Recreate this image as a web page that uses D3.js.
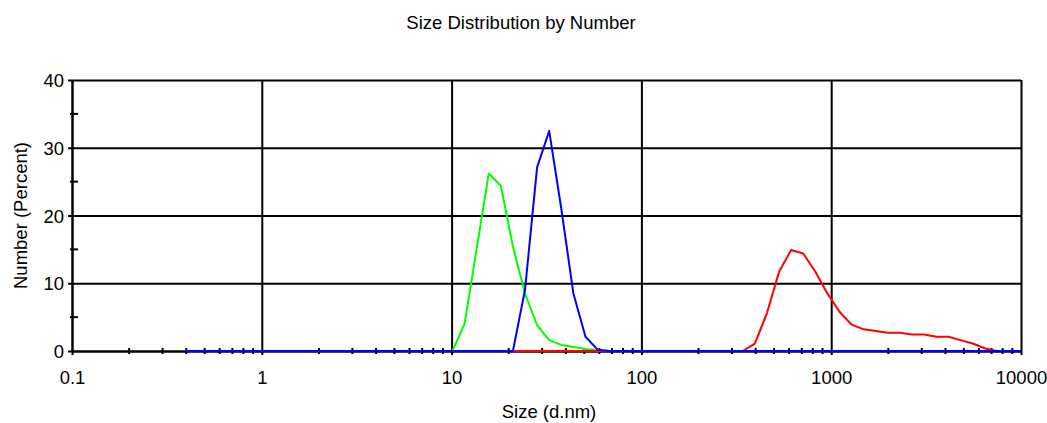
<!DOCTYPE html>
<html>
<head>
<meta charset="utf-8">
<script src="https://cdn.jsdelivr.net/npm/d3@7"></script>
<style>
  html, body { margin: 0; padding: 0; background: #fff; }
  svg { display: block; }
  text { font-family: "Liberation Sans", Arial, sans-serif; fill: #000; }
</style>
</head>
<body>
<svg id="chart" width="1047" height="423"></svg>
<script>
// Size bins (d.nm) shared by all three measurements
const sizes = [
  0.4, 0.4632, 0.5365, 0.6213, 0.7195, 0.8332, 0.9649, 1.117, 1.294, 1.499,
  1.736, 2.010, 2.328, 2.696, 3.122, 3.615, 4.187, 4.849, 5.615, 6.503,
  7.531, 8.721, 10.10, 11.70, 13.54, 15.69, 18.17, 21.04, 24.36, 28.21,
  32.67, 37.84, 43.82, 50.75, 58.77, 68.06, 78.82, 91.28, 105.7, 122.4,
  141.8, 164.2, 190.1, 220.2, 255.0, 295.3, 342.0, 396.1, 458.7, 531.2,
  615.1, 712.4, 825.0, 955.4, 1106, 1281, 1484, 1718, 1990, 2305,
  2669, 3091, 3580, 4145, 4801, 5560, 6439, 7456, 8635, 10000
];

// Number distribution (%) per bin
const greenValues = [
  0, 0, 0, 0, 0, 0, 0, 0, 0, 0,
  0, 0, 0, 0, 0, 0, 0, 0, 0, 0,
  0, 0, 0, 4.0, 15.0, 26.2, 24.4, 15.4, 8.5, 3.8,
  1.6, 0.9, 0.6, 0.3, 0.1, 0, 0, 0, 0, 0,
  0, 0, 0, 0, 0, 0, 0, 0, 0, 0,
  0, 0, 0, 0, 0, 0, 0, 0, 0, 0,
  0, 0, 0, 0, 0, 0, 0, 0, 0, 0
];
const redValues = [
  0, 0, 0, 0, 0, 0, 0, 0, 0, 0,
  0, 0, 0, 0, 0, 0, 0, 0, 0, 0,
  0, 0, 0, 0, 0, 0, 0, 0, 0, 0,
  0, 0, 0, 0, 0, 0, 0, 0, 0, 0,
  0, 0, 0, 0, 0, 0, 0, 1.1, 5.6, 11.7,
  14.9, 14.4, 11.7, 8.5, 5.8, 3.9, 3.2, 2.95, 2.7, 2.7,
  2.45, 2.45, 2.1, 2.1, 1.6, 1.1, 0.4, 0, 0, 0
];
const blueValues = [
  0, 0, 0, 0, 0, 0, 0, 0, 0, 0,
  0, 0, 0, 0, 0, 0, 0, 0, 0, 0,
  0, 0, 0, 0, 0, 0, 0, 0, 9.0, 27.1,
  32.5, 21.0, 8.5, 2.1, 0.2, 0, 0, 0, 0, 0,
  0, 0, 0, 0, 0, 0, 0, 0, 0, 0,
  0, 0, 0, 0, 0, 0, 0, 0, 0, 0,
  0, 0, 0, 0, 0, 0, 0, 0, 0, 0
];

// Axis ticks
const xTicks = [0.1, 1, 10, 100, 1000, 10000];
const xTickLabels = ["0.1", "1", "10", "100", "1000", "10000"];
const yTicks = [0, 10, 20, 30, 40];
const yMinorTicks = [5, 15, 25, 35];

const titleText = "Size Distribution by Number";
const xTitle = "Size (d.nm)";
const yTitle = "Number (Percent)";

const svg = d3.select("#chart");
const plotLeft = 72, plotRight = 1021, plotTop = 80, plotBottom = 351;
const fontSize = 18.5;

const x = d3.scaleLog().domain([0.1, 10000]).range([plotLeft, plotRight]);
const y = d3.scaleLinear().domain([0, 40]).range([plotBottom, plotTop]);

// minor x ticks: 2..9 within each decade
const xMinorTicks = [];
for (let i = 0; i < xTicks.length - 1; i++) {
  for (let m = 2; m <= 9; m++) xMinorTicks.push(xTicks[i] * m);
}

// Grid lines
const grid = svg.append("g");
grid.append("g")
  .attr("transform", `translate(0,${plotBottom})`)
  .call(d3.axisBottom(x).tickValues(xTicks).tickSize(-(plotBottom - plotTop)).tickFormat(""))
  .call(g => g.select(".domain").remove())
  .call(g => g.selectAll("line").attr("stroke", "#000").attr("stroke-width", 2));
grid.append("g")
  .attr("transform", `translate(${plotLeft},0)`)
  .call(d3.axisLeft(y).tickValues(yTicks).tickSize(-(plotRight - plotLeft)).tickFormat(""))
  .call(g => g.select(".domain").remove())
  .call(g => g.selectAll("line").attr("stroke", "#000").attr("stroke-width", 2));

// X axis: major ticks with labels, minor ticks crossing the axis line
const xAxis = svg.append("g").attr("transform", `translate(0,${plotBottom})`);
xAxis.call(d3.axisBottom(x).tickValues(xTicks).tickSize(4).tickSizeOuter(0)
    .tickFormat((d, i) => xTickLabels[i]))
  .call(g => g.select(".domain").attr("stroke", "#000").attr("stroke-width", 2))
  .call(g => g.selectAll(".tick line").attr("stroke", "#000").attr("stroke-width", 2))
  .call(g => g.selectAll(".tick text")
    .attr("y", 33).attr("dy", 0)
    .style("font-family", '"Liberation Sans", Arial, sans-serif')
    .style("font-size", fontSize + "px").attr("fill", "#000"));
svg.append("g")
  .selectAll("line")
  .data(xMinorTicks)
  .join("line")
  .attr("x1", d => x(d)).attr("x2", d => x(d))
  .attr("y1", plotBottom - 3).attr("y2", plotBottom + 3)
  .attr("stroke", "#000").attr("stroke-width", 2);

// Y axis
const yAxis = svg.append("g").attr("transform", `translate(${plotLeft},0)`);
yAxis.call(d3.axisLeft(y).tickValues(yTicks).tickSize(4).tickSizeOuter(0).tickPadding(4))
  .call(g => g.select(".domain").attr("stroke", "#000").attr("stroke-width", 2))
  .call(g => g.selectAll(".tick line").attr("stroke", "#000").attr("stroke-width", 2))
  .call(g => g.selectAll(".tick text")
    .attr("dy", "0.36em")
    .style("font-family", '"Liberation Sans", Arial, sans-serif')
    .style("font-size", fontSize + "px").attr("fill", "#000"));
svg.append("g")
  .selectAll("line")
  .data(yMinorTicks)
  .join("line")
  .attr("x1", plotLeft - 2).attr("x2", plotLeft + 6)
  .attr("y1", d => y(d)).attr("y2", d => y(d))
  .attr("stroke", "#000").attr("stroke-width", 2);

// Distribution lines
const line = d3.line()
  .x((d, i) => x(sizes[i]))
  .y(d => y(d));

const series = [
  { values: greenValues, color: "#00ff00" },
  { values: redValues, color: "#ff0000" },
  { values: blueValues, color: "#0000ff" }
];
svg.append("g")
  .selectAll("path")
  .data(series)
  .join("path")
  .attr("d", d => line(d.values))
  .attr("fill", "none")
  .attr("stroke", d => d.color)
  .attr("stroke-width", 2)
  .attr("stroke-linejoin", "round");

// Titles
svg.append("text")
  .attr("x", 521).attr("y", 29)
  .attr("text-anchor", "middle")
  .style("font-size", fontSize + "px")
  .text(titleText);
svg.append("text")
  .attr("x", 549).attr("y", 418)
  .attr("text-anchor", "middle")
  .style("font-size", fontSize + "px")
  .text(xTitle);
svg.append("text")
  .attr("transform", `translate(27,${(plotTop + plotBottom) / 2}) rotate(-90)`)
  .attr("text-anchor", "middle")
  .style("font-size", fontSize + "px")
  .text(yTitle);
</script>
</body>
</html>
